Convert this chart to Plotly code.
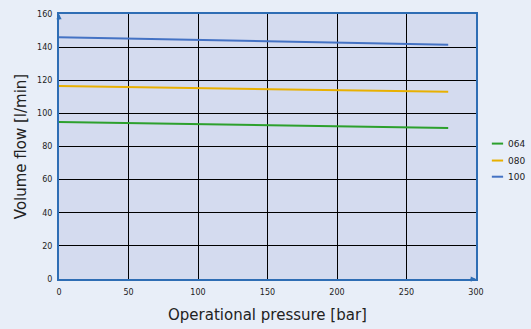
import plotly.graph_objects as go

# Daten
druck = [0, 280]
flow_064 = [94.8, 91.2]
flow_080 = [116.5, 113.0]
flow_100 = [146.0, 141.5]

serien = [('064', flow_064, '#2CA02C'), ('080', flow_080, '#E8B000'), ('100', flow_100, '#4472C4')]

fig = go.Figure()
for name, werte, farbe in serien:
    fig.add_trace(go.Scatter(x=druck, y=werte, mode='lines', name=name,
                             line=dict(color=farbe, width=2), showlegend=False))

# Legende von Hand (kurze Linien + Text rechts neben dem Diagramm)
legende_y = [0.511, 0.447, 0.386]
for (name, werte, farbe), ly in zip(serien, legende_y):
    fig.add_shape(type='line', xref='paper', yref='paper', x0=1.038, x1=1.065, y0=ly, y1=ly,
                  line=dict(color=farbe, width=2))
    fig.add_annotation(xref='paper', yref='paper', x=1.072, y=ly, text=name, showarrow=False,
                       xanchor='left', yanchor='middle', font=dict(size=9))

fig.update_layout(
    width=531, height=329,
    margin=dict(l=59, r=55, t=14, b=50, autoexpand=False),
    paper_bgcolor='#E8EEF8',
    plot_bgcolor='#D4DBEF',
    font=dict(family='DejaVu Sans', color='#222'),
)
fig.update_xaxes(range=[0, 300], dtick=50, showgrid=True, gridcolor='black', gridwidth=1,
                 showline=True, linecolor='#2E6DB4', linewidth=2, mirror=True,
                 zeroline=False, tickfont=dict(size=8), ticklabelstandoff=4,
                 title=dict(text='Operational pressure [bar]', font=dict(size=15), standoff=14))
fig.update_yaxes(range=[0, 160], dtick=20, showgrid=True, gridcolor='black', gridwidth=1,
                 showline=True, linecolor='#2E6DB4', linewidth=2, mirror=True,
                 zeroline=False, tickfont=dict(size=8), ticklabelstandoff=3,
                 title=dict(text='Volume flow [l/min]', font=dict(size=15), standoff=7))

# kleine Pfeilspitzen an den Achsenenden
fig.add_annotation(x=0, y=160, ax=0, ay=7, xref='x', yref='y', showarrow=True,
                   arrowhead=2, arrowsize=0.7, arrowwidth=1.5, arrowcolor='#2E6DB4', text='')
fig.add_annotation(x=300, y=0, ax=-7, ay=0, xref='x', yref='y', showarrow=True,
                   arrowhead=2, arrowsize=0.7, arrowwidth=1.5, arrowcolor='#2E6DB4', text='')

fig.write_html("out.html", config={'displayModeBar': False},
               post_script="document.body.style.margin='0';")
